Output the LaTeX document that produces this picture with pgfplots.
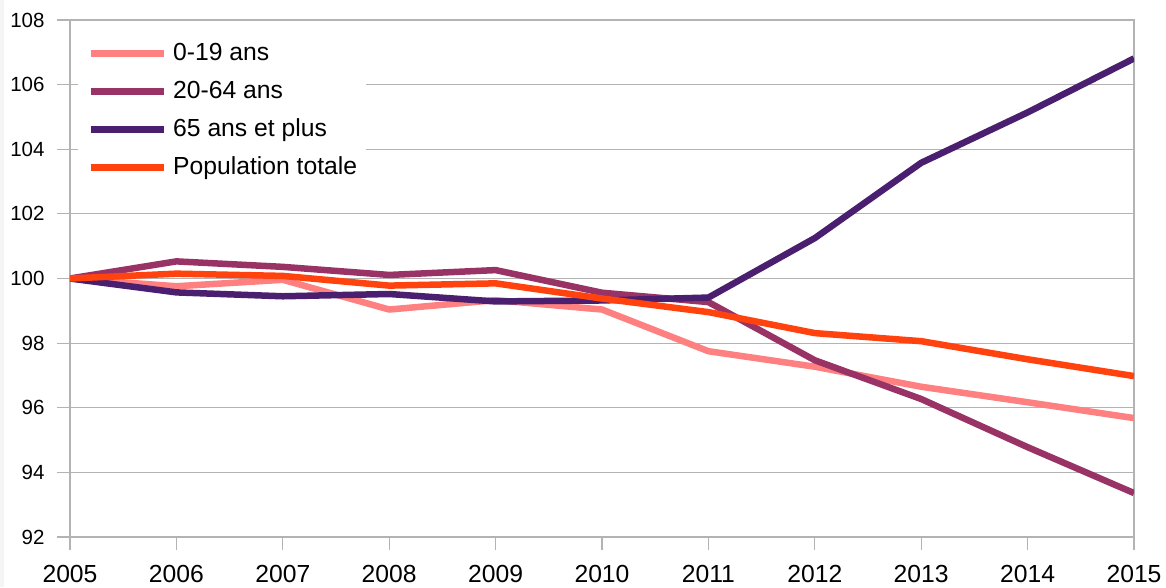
\documentclass[border=0pt]{standalone}
\usepackage{fontspec}
\setmainfont{Liberation Sans}
\usepackage{pgfplots}
\pgfplotsset{compat=1.18}

\definecolor{cPink}{HTML}{FF8080}
\definecolor{cMagenta}{HTML}{993366}
\definecolor{cPurple}{HTML}{4B1F6F}
\definecolor{cOrange}{HTML}{FF420E}
\definecolor{cGrid}{HTML}{B3B3B3}

\begin{document}
\begin{tikzpicture}
  \path[use as bounding box] (-70pt,-50pt) rectangle (1096pt,537pt);
  \fill[gray!8] (-70pt,-50pt) rectangle (-66pt,537pt);
  \begin{axis}[
      scale only axis,
      width=1064pt, height=517pt,
      xmin=2005, xmax=2015,
      ymin=92, ymax=108,
      xtick={2005,2006,...,2015},
      ytick={92,94,...,108},
      xtick pos=left, ytick pos=left,
      tick align=outside,
      major tick length=13pt,
      tick style={cGrid, line width=1.2pt},
      axis line style={cGrid, line width=1.2pt},
      ymajorgrids,
      grid style={cGrid, line width=1.2pt},
      /pgf/number format/1000 sep={},
      /pgf/number format/assume math mode=true,
      ticklabel style={text=black},
      y tick label style={font=\fontsize{20.5}{24}\selectfont, xshift=-9pt},
      x tick label style={font=\fontsize{24.7}{29}\selectfont, yshift=-12pt},
      legend cell align=left,
      legend style={
        at={(rel axis cs:0,1)}, anchor=north west,
        xshift=8pt, yshift=-13pt,
        draw=none, fill=white,
        inner xsep=9pt, inner ysep=10pt,
        column sep=6pt, row sep=16pt,
        font=\fontsize{24.7}{29}\selectfont,
        nodes={inner sep=0pt, text height=17pt, text depth=5pt},
      },
      legend image code/.code={
        \draw[#1, line width=7pt, line cap=butt] (0pt,1pt) -- (73pt,1pt);
      },
      every axis plot/.append style={line width=6.5pt, line join=round, mark=none},
    ]
    \addplot[cPink] coordinates {
      (2005,100.00) (2006,99.76) (2007,99.96) (2008,99.04) (2009,99.33)
      (2010,99.04) (2011,97.75) (2012,97.27) (2013,96.65) (2014,96.17) (2015,95.68)
    };
    \addlegendentry{0-19 ans}
    \addplot[cMagenta] coordinates {
      (2005,100.00) (2006,100.53) (2007,100.36) (2008,100.11) (2009,100.26)
      (2010,99.56) (2011,99.27) (2012,97.47) (2013,96.27) (2014,94.78) (2015,93.36)
    };
    \addlegendentry{20-64 ans}
    \addplot[cPurple] coordinates {
      (2005,100.00) (2006,99.57) (2007,99.45) (2008,99.52) (2009,99.29)
      (2010,99.32) (2011,99.41) (2012,101.25) (2013,103.58) (2014,105.14) (2015,106.81)
    };
    \addlegendentry{65 ans et plus}
    \addplot[cOrange] coordinates {
      (2005,100.00) (2006,100.15) (2007,100.08) (2008,99.78) (2009,99.85)
      (2010,99.38) (2011,98.96) (2012,98.31) (2013,98.06) (2014,97.50) (2015,96.98)
    };
    \addlegendentry{Population totale}
  \end{axis}
\end{tikzpicture}
\end{document}
